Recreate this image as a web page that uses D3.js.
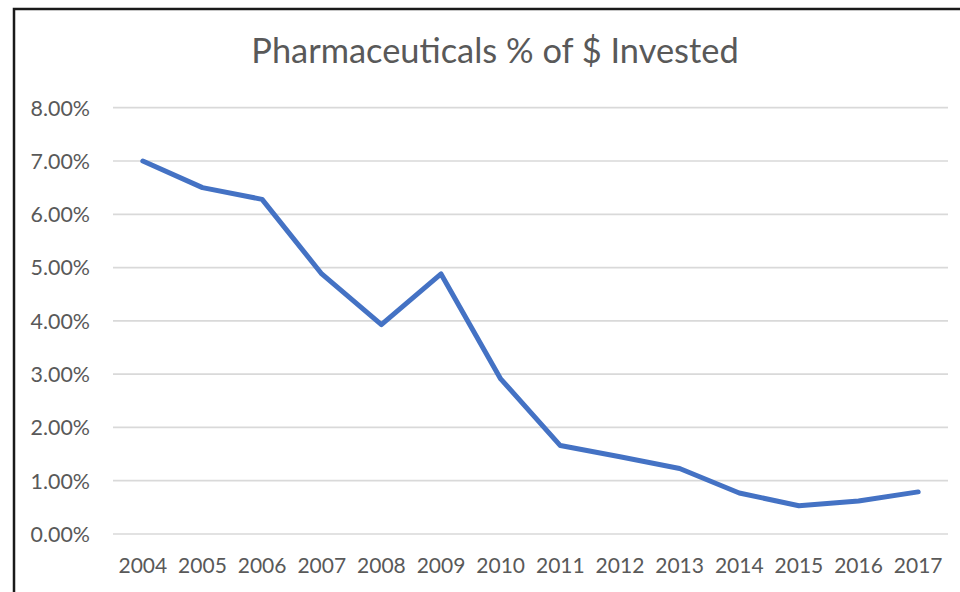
<!DOCTYPE html>
<html>
<head>
<meta charset="utf-8">
<script src="https://cdn.jsdelivr.net/npm/d3@7"></script>
<style>
  body { margin: 0; background: #fff; }
  svg { display: block; font-family: Lato, "Open Sans", sans-serif; }
</style>
</head>
<body>
<svg id="chart" width="960" height="592"></svg>
<script>
// data
var years = ["2004", "2005", "2006", "2007", "2008", "2009", "2010",
             "2011", "2012", "2013", "2014", "2015", "2016", "2017"];
var pctInvested = [7.00, 6.50, 6.28, 4.88, 3.93, 4.88, 2.91,
                   1.66, 1.45, 1.23, 0.77, 0.53, 0.62, 0.79];
var yTicks = [0, 1, 2, 3, 4, 5, 6, 7, 8];
var title = "Pharmaceuticals % of $ Invested";

var svg = d3.select("#chart");

var plot = {left: 113, right: 948, top: 107.7, bottom: 534};

var x = d3.scaleBand().domain(years).range([plot.left, plot.right]);
var y = d3.scaleLinear().domain([0, 8]).range([plot.bottom, plot.top]);

// chart area border (runs off the right and bottom edges)
svg.append("rect")
   .attr("x", 14).attr("y", 9)
   .attr("width", 980).attr("height", 620)
   .attr("fill", "none")
   .attr("stroke", "#1a1a1a")
   .attr("stroke-width", 2.5);

// title
svg.append("text")
   .attr("x", 495).attr("y", 63)
   .attr("text-anchor", "middle")
   .attr("fill", "#595959")
   .attr("font-size", 34.4)
   .text(title);

// gridlines
svg.append("g")
   .selectAll("line")
   .data(yTicks)
   .enter().append("line")
   .attr("x1", plot.left).attr("x2", plot.right)
   .attr("y1", function(d) { return y(d); })
   .attr("y2", function(d) { return y(d); })
   .attr("stroke", "#d9d9d9")
   .attr("stroke-width", 1.7);

// y labels
svg.append("g")
   .selectAll("text")
   .data(yTicks)
   .enter().append("text")
   .attr("x", 90)
   .attr("y", function(d) { return y(d) + 7.8; })
   .attr("text-anchor", "end")
   .attr("fill", "#595959")
   .attr("font-size", 21.4)
   .text(function(d) { return d.toFixed(2) + "%"; });

// x labels
svg.append("g")
   .selectAll("text")
   .data(years)
   .enter().append("text")
   .attr("x", function(d) { return x(d) + x.bandwidth() / 2; })
   .attr("y", 573)
   .attr("text-anchor", "middle")
   .attr("fill", "#595959")
   .attr("font-size", 21)
   .text(function(d) { return d; });

// the line
var line = d3.line()
   .x(function(d, i) { return x(years[i]) + x.bandwidth() / 2; })
   .y(function(d) { return y(d); });

svg.append("path")
   .datum(pctInvested)
   .attr("d", line)
   .attr("fill", "none")
   .attr("stroke", "#4472c4")
   .attr("stroke-width", 5)
   .attr("stroke-linejoin", "round")
   .attr("stroke-linecap", "round");
</script>
</body>
</html>
